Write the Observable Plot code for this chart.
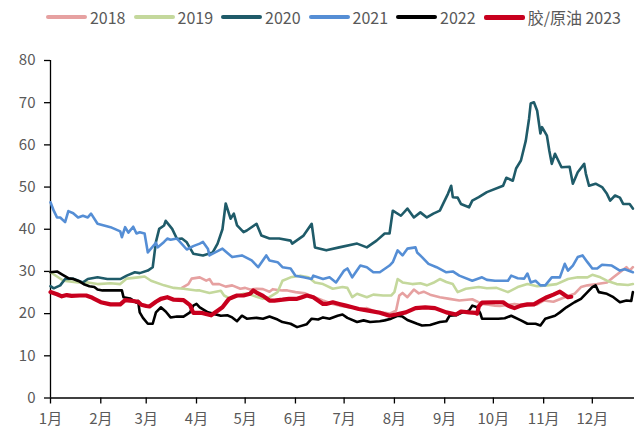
<!DOCTYPE html>
<html><head><meta charset="utf-8">
<script src="https://cdn.jsdelivr.net/npm/d3@7"></script>
<script src="https://cdn.jsdelivr.net/npm/@observablehq/plot@0.6"></script>
<style>
body{margin:0;background:#fff;font-family:"Noto Sans CJK SC","Noto Sans",sans-serif;}
#legend{height:34px;display:flex;justify-content:center;align-items:center;gap:8px;font-size:16px;color:#595959;padding-left:26px;box-sizing:border-box;width:641px}
.item{display:flex;align-items:center;gap:3px;white-space:nowrap}
.sw{width:41px;border-radius:2px}
</style></head><body><div id="legend"></div><div id="chart"></div>
<script>
// x = day of year (0 = 1 Jan), y = ratio
const monthStarts = [0,31,59,90,120,151,181,212,243,273,304,334];
const monthLabels = ["1月","2月","3月","4月","5月","6月","7月","8月","9月","10月","11月","12月"];
const yTicks = [0,10,20,30,40,50,60,70,80];

const s2018 = [[81,26.1],[85,27],[87,28.3],[92,28.6],[96,27.8],[98,28.2],[100,27],[104,27],[108,26.4],[112,26.7],[117,25.9],[120,26.1],[123,25.7],[127,25.9],[131,25.8],[135,25.2],[137,25.8],[140,25.6],[143,25.5],[146,25.5],[151,25.1],[157,24.8],[160,24.3],[168,23.1],[174,22.3],[178,21.9],[184,21.5],[189,21.3],[191,21.1],[195,21.3],[199,20.7],[201,20.5],[209,20],[213,20.7],[215,24.3],[217,24.9],[220,23.9],[224,25.7],[227,24.8],[230,25.2],[234,24.5],[240,23.9],[246,23.5],[252,23.1],[260,23.4],[266,22.3],[270,22.1],[274,21.9],[277,21.8],[286,22.3],[294,21.9],[300,22.2],[304,23.1],[310,22.8],[317,23.9],[323,24.7],[327,26.3],[331,26.7],[337,27],[343,27.4],[347,28.6],[351,29.8],[355,31],[357,30.2],[359,31]];

const s2019 = [[0,29.8],[4,28.8],[8,27.8],[17,27.4],[23,27.4],[29,27],[37,27.2],[43,27],[47,28.3],[54,28.6],[58,28.8],[62,27.8],[70,26.7],[76,26.1],[82,25.9],[90,25.5],[92,25.5],[98,24.9],[105,25.4],[107,24.3],[111,23.5],[116,24.3],[119,24.7],[122,24.7],[127,24],[131,23.5],[135,23.9],[140,25.1],[143,27.8],[148,28.6],[154,29],[159,28.6],[163,27.4],[168,27],[174,25.9],[180,26.3],[183,26.1],[186,23.9],[189,24.7],[195,23.9],[199,24.5],[205,24.3],[210,24.3],[212,25.1],[214,28.2],[217,27.4],[223,27],[228,27.2],[232,26.7],[236,27.3],[240,28.2],[244,27.5],[248,27],[251,25.1],[256,25.9],[264,26.3],[269,26],[275,26.1],[282,25.1],[288,26.3],[294,27],[300,26.5],[306,26.7],[312,27],[319,28.2],[325,28.6],[331,28.6],[334,29.2],[339,28.6],[343,27.8],[349,27],[356,26.8],[359,27]];

const s2020 = [[0,26.5],[2,26],[6,26.7],[9,28.2],[14,28.3],[20,27.4],[23,28.2],[29,28.6],[35,28.2],[43,28.2],[47,29],[52,29.8],[55,29.6],[60,30.2],[63,31],[65,37],[67,40.1],[70,40.9],[71,42],[75,40.1],[78,37.7],[81,37.8],[84,36.9],[88,34.2],[94,33.8],[100,34.5],[103,36.6],[106,40],[108,46.1],[111,42.5],[113,43.7],[115,40.9],[119,39.3],[121,39.7],[127,41.3],[130,38.5],[135,37.8],[141,37.8],[148,37.3],[149,36.6],[156,38.5],[161,41.3],[163,35.7],[170,35],[178,35.7],[189,36.6],[195,35.7],[201,37.3],[206,39],[209,39],[211,44.4],[216,43.2],[220,44.9],[224,42.8],[228,44],[232,42.8],[236,43.7],[240,44.4],[242,46],[245,48.4],[247,50.3],[248,47.6],[251,47.5],[253,46],[258,45.2],[260,46.8],[264,47.6],[269,48.8],[279,50.3],[281,52.2],[285,51.5],[287,54.4],[290,56.3],[293,61],[295,66.2],[296,69.8],[298,70.1],[300,68.1],[302,62.7],[303,64.2],[306,62.2],[307.5,58.6],[309,55.5],[311,57.9],[315,54.7],[320,54.8],[322,50.8],[325,53.5],[329,55.5],[330,53.2],[332,50.3],[336,50.8],[340,50],[343,48.4],[345,46.8],[348,48],[351,47.5],[353,46],[357,46],[359,44.9]];

const s2021 = [[0,46.4],[2,44.4],[4,42.8],[6,42.8],[9,41.7],[11,44.3],[14,43.8],[17,42.8],[20,43.2],[23,42.8],[25,43.7],[29,41.3],[37,40.5],[43,39.5],[44,38.1],[46,40.5],[48,39.2],[51,40.6],[53,39],[55,39.3],[58,39],[60,34.5],[65,36.8],[66,35.7],[70,37],[72,37.8],[74,37.5],[78,37.8],[84,35.2],[88,36],[92,36.6],[94,37],[97,35.4],[98,33.8],[100,34.2],[106,35.4],[112,33.4],[118,33.8],[124,32.6],[128,31],[133,33.8],[135,32.6],[140,32.2],[143,31],[148,30.7],[151,29],[156,28.6],[161,28.2],[162,29],[168,28.2],[172,28.6],[176,27.4],[181,30.2],[183,30.7],[186,28.6],[191,31.4],[195,31],[199,29.8],[203,29.8],[209,31.4],[211,32.2],[214,35],[217,33.8],[220,35.4],[225,35.7],[226,34.5],[229,33.4],[233,31.8],[238,31],[244,29.8],[248,30],[252,29],[260,27.8],[266,28.6],[269,28],[274,27.8],[282,27.8],[284,29],[288,28.4],[292,28.3],[294,29.5],[296,27.4],[299,27.8],[302,26.7],[305,26.7],[309,28.6],[314,28.6],[317,31.8],[319,30.2],[322,31.4],[325,33.4],[328,33.8],[331,32.2],[334,30.7],[337,30.7],[340,31.6],[346,31.4],[351,30.2],[354,30.5],[359,29.8]];

const s2022 = [[0,29.8],[4,30],[7,29.3],[11,28.4],[14,28.2],[18,27.6],[21,26.9],[24,26.5],[27,26.3],[29,25.7],[32,25.5],[35,25.5],[41,25.5],[44,25.5],[45,23.9],[49,23.6],[53,22.6],[54,23],[55,20.3],[57,19],[60,17.6],[63,17.6],[65,20.3],[68,21.5],[71,20.5],[74,19.1],[78,19.3],[82,19.3],[86,20.3],[88,21.9],[90,22.3],[92,21.5],[97,20.3],[100,20],[105,19.5],[109,19.6],[112,19.1],[115,18.2],[118,19.5],[121,18.8],[124,18.9],[127,19],[131,18.8],[135,19.3],[140,18.6],[143,18],[148,17.6],[152,16.8],[158,17.5],[161,18.8],[165,18.6],[168,19.1],[172,18.8],[177,19.5],[180,19.8],[183,19],[189,18],[193,18.4],[197,18],[203,18.2],[206,18.4],[210,18.8],[214,19.5],[217,19.3],[220,18.5],[226,17.6],[229,17.2],[234,17.3],[240,18],[244,18.2],[246,19.5],[250,19.6],[254,20.3],[258,20.7],[260,21.9],[263,21.5],[265,20],[266,18.8],[270,18.8],[276,18.8],[280,18.9],[284,19.5],[290,18.4],[294,17.6],[299,17.6],[302,17.2],[305,18.8],[311,19.5],[314,20.3],[318,21.5],[323,22.7],[327,23.5],[331,25.1],[334,26.3],[336,26.7],[338,25.1],[343,24.7],[347,23.9],[351,22.7],[355,23.1],[358,23],[359,25.1]];

const s2023 = [[0,25.1],[4,24.6],[7,24.1],[10,24.4],[13,24.2],[18,24.3],[22,24.3],[25,23.9],[27,23.5],[31,22.7],[37,22.2],[43,22.2],[46,23.2],[49,23.1],[51,23],[54,22.8],[56,22.1],[59,21.8],[61,21.7],[65,22.8],[68,23.5],[72,23.9],[74,23.6],[76,23.3],[82,23.2],[86,22],[88,20.2],[92,20.2],[94,20.1],[99,19.6],[103,20.7],[106,21.5],[110,23.5],[113,24],[115,24.3],[119,24.3],[123,24.7],[125,25.5],[127,25],[131,24.2],[135,23.1],[138,23.1],[143,23.3],[147,23.5],[152,23.5],[155,23.9],[158,24.3],[162,23.9],[168,22.3],[170,22.3],[174,22.7],[178,22.3],[182,21.9],[186,21.5],[190,21.1],[196,20.7],[203,20.2],[209,19.5],[213,19.8],[219,20.3],[225,21.3],[231,21.5],[237,21.3],[244,20.3],[250,19.8],[253,20.5],[258,20.3],[262,20.2],[263,20],[264,21.7],[266,22.6],[273,22.7],[279,22.7],[282,21.9],[286,21.3],[290,21.9],[294,22.2],[298,22.2],[302,23.1],[306,23.9],[310,24.5],[314,25.2],[317,24.4],[319,23.9],[321,24]];

const seriesNames = ["2018","2019","2020","2021","2022","胶/原油 2023"];
const seriesData = [s2018,s2019,s2020,s2021,s2022,s2023];
const seriesColors = ["#E6A1A1","#C4D89C","#1F5B69","#558ED5","#000000","#C8001E"];
const seriesWidths = [2.6,2.6,2.6,2.6,2.6,4.2];

// legend
const leg = document.getElementById("legend");
seriesNames.forEach((n,i)=>{
  const it = document.createElement("div"); it.className="item";
  const sw = document.createElement("div"); sw.className="sw";
  sw.style.height = (i===5?5:4)+"px"; sw.style.background = seriesColors[i];
  const t = document.createElement("span"); t.textContent = n;
  it.appendChild(sw); it.appendChild(t); leg.appendChild(it);
});

const rows = seriesData.flatMap((arr,i)=>arr.map(([d,v])=>({day:d,value:v,s:i})));

const chart = Plot.plot({
  width: 641, height: 398,
  marginLeft: 50, marginRight: 7, marginTop: 26, marginBottom: 34.5,
  x: {domain:[0,360]},
  y: {domain:[0,80]},
  style: {fontSize:"15px", color:"#595959", fontFamily:'"Noto Sans CJK SC","Noto Sans",sans-serif', background:"#fff"},
  marks: [
    Plot.axisX({ticks: monthStarts, tickFormat: d => monthLabels[monthStarts.indexOf(d)], tickSize:6, tickPadding:9, stroke:"#000", fill:"#595959", strokeWidth:1.3, label:null}),
    Plot.axisY({ticks: yTicks, tickSize:6, tickPadding:9, stroke:"#000", fill:"#595959", strokeWidth:1.3, label:null}),
    Plot.ruleY([0], {stroke:"#000", strokeWidth:1.3}),
    Plot.ruleX([0], {stroke:"#000", strokeWidth:1.3}),
    ...seriesData.map((arr,i)=>Plot.line(arr, {x:d=>d[0], y:d=>d[1], stroke:seriesColors[i], strokeWidth:seriesWidths[i], strokeLinejoin:"round", strokeLinecap:"round"}))
  ]
});
document.getElementById("chart").appendChild(chart);
</script></body></html>
